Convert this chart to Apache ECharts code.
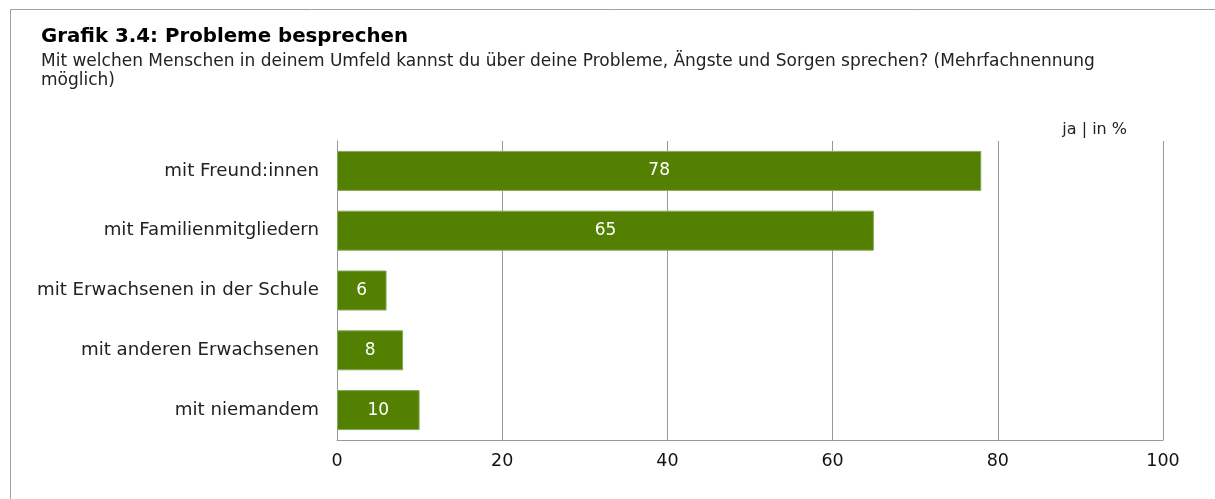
<!DOCTYPE html>
<html><head><meta charset="utf-8">
<script src="https://cdn.jsdelivr.net/npm/echarts@6/dist/echarts.min.js"></script>
<style>html,body{margin:0;padding:0;background:#fff}#c{width:1215px;height:499px}</style>
</head><body><div id="c"></div>
<script>
const categories = ["mit Freund:innen","mit Familienmitgliedern","mit Erwachsenen in der Schule","mit anderen Erwachsenen","mit niemandem"];
const values = [78, 65, 6, 8, 10];
const titleText = "Grafik 3.4: Probleme besprechen";
const subText = "Mit welchen Menschen in deinem Umfeld kannst du über deine Probleme, Ängste und Sorgen sprechen? (Mehrfachnennung\nmöglich)";
const unitText = "ja | in %";

const chart = echarts.init(document.getElementById('c'), null, {renderer:'canvas'});
const font = "'DejaVu Sans', Verdana, sans-serif";
chart.setOption({
  animation:false,
  title:{
    text:titleText, subtext:subText, left:36, top:22, itemGap:5,
    textStyle:{fontFamily:font, fontSize:19.8, fontWeight:'bold', color:'#000'},
    subtextStyle:{fontFamily:font, fontSize:17, color:'#222', lineHeight:19}
  },
  graphic:[
    {type:'line', shape:{x1:10.5,y1:9.5,x2:1215,y2:9.5}, style:{stroke:'#a0a0a0', lineWidth:1}},
    {type:'line', shape:{x1:10.5,y1:9.5,x2:10.5,y2:499}, style:{stroke:'#a0a0a0', lineWidth:1}},
    {type:'text', right:88, top:122, style:{text:unitText, font:"16px "+font, fill:'#222'}}
  ],
  grid:{left:337, right:52, top:141, bottom:59, containLabel:false},
  xAxis:{
    type:'value', min:0, max:100, interval:20,
    axisLine:{show:true, lineStyle:{color:'#999'}},
    axisTick:{show:false},
    splitLine:{show:true, lineStyle:{color:'#999'}},
    axisLabel:{fontFamily:font, fontSize:17.5, color:'#111', margin:12}
  },
  yAxis:{
    type:'category', data:categories, inverse:true,
    axisLine:{show:true, lineStyle:{color:'#999'}},
    axisTick:{show:false},
    axisLabel:{fontFamily:font, fontSize:18.2, color:'#222', margin:18}
  },
  series:[{
    type:'bar', data:values, barWidth:40,
    itemStyle:{color:'#538000', borderColor:'#86a85a', borderWidth:1},
    label:{show:true, position:'inside', color:'#fff', fontFamily:font, fontSize:17}
  }]
});
</script></body></html>
